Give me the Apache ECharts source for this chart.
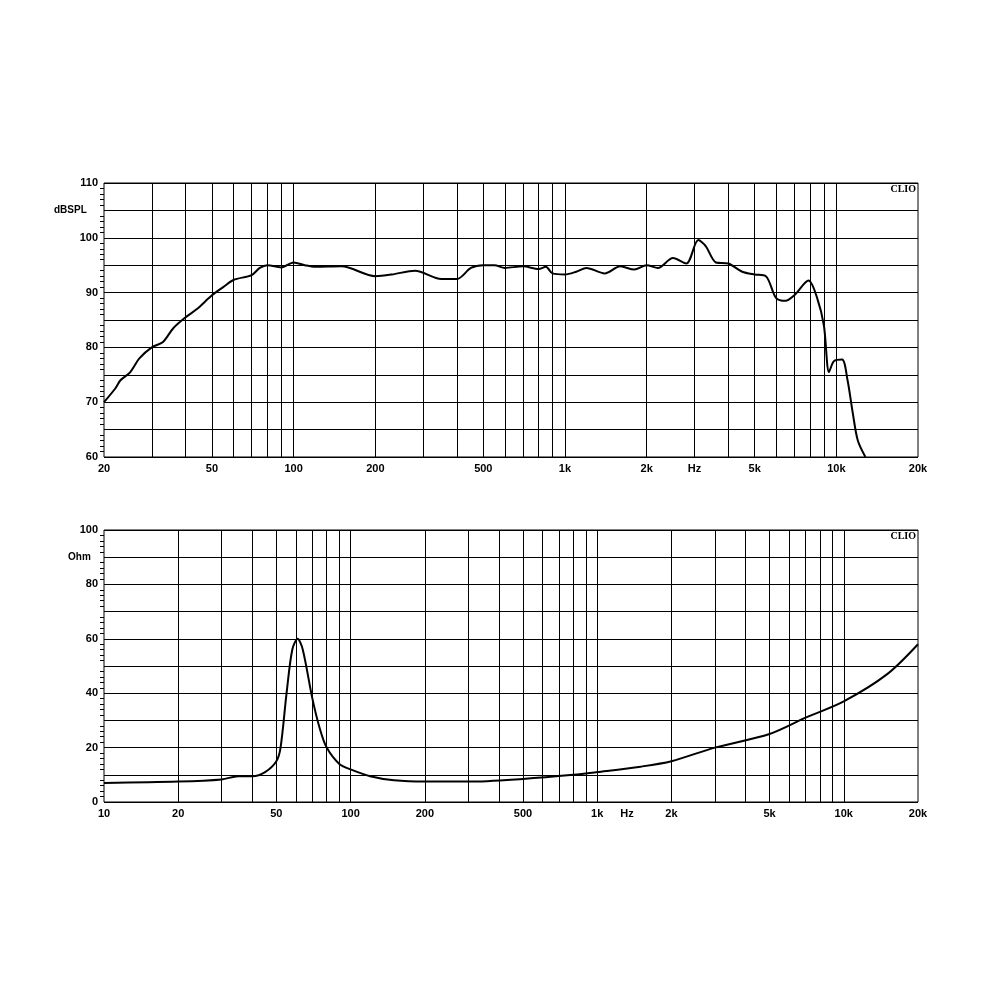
<!DOCTYPE html>
<html><head><meta charset="utf-8">
<script src="https://cdn.jsdelivr.net/npm/echarts@6/dist/echarts.min.js"></script>
<style>html,body{margin:0;background:#fff}#c{width:1000px;height:1000px}</style>
</head><body><div id="c"></div>
<script>
// frequency response (Hz, dBSPL)
const splFreq = [20,22,23,25,27,30,33,36,40,44,50,55,60,70,75,80,90,100,110,120,150,200,230,280,350,400,450,500,550,600,700,800,850,900,1000,1100,1200,1400,1600,1800,2000,2200,2500,2800,3100,3300,3600,4000,4500,5000,5500,6000,6500,7000,7900,8500,9000,9400,9800,10500,11000,11500,12000,12800];
const splValue = [70,72.5,74,75.5,78,80,81,83.5,85.5,87,89.5,91,92.3,93.2,94.5,95,94.6,95.5,95,94.7,94.8,93,93.3,94,92.5,92.5,94.5,95,95,94.5,94.8,94.3,94.7,93.5,93.3,93.8,94.5,93.5,94.8,94.2,95,94.5,96.3,95.3,99.6,98.5,95.5,95.3,93.8,93.3,93,89,88.5,89.5,92.2,89,84,75.5,77.5,77.8,74,68,63,60];
// impedance (Hz, Ohm)
const impFreq = [10,20,30,35,40,45,50,52,55,58,61,64,70,75,80,90,100,120,150,200,300,500,800,1000,1500,2000,3000,5000,7000,10000,15000,20000];
const impValue = [7,7.5,8.3,9.5,9.5,11,15,20,40,56,60,56,38,27,20,14,12,9.5,8,7.5,7.5,8.5,10,11,13,15,20,25,31,37,47,58];
// vertical grid lines and tick labels
const gridFreq = [10,20,30,40,50,60,70,80,90,100,200,300,400,500,600,700,800,900,1000,2000,3000,4000,5000,6000,7000,8000,9000,10000,20000];
const splTicks = [20,50,100,200,500,1000,2000,3000,5000,10000,20000];
const impTicks = [10,20,50,100,200,500,1000,1320,2000,5000,10000,20000];
const hzAt = {spl: 3000, imp: 1320};

const font = {fontFamily: 'Liberation Sans', fontWeight: 'bold', fontSize: 11, color: '#000'};
const fmtF = hz => f => f === hz ? 'Hz' : f >= 1000 ? (f / 1000) + 'k' : String(f);

function xAxis(idx, min, max, ticks, hz) {
  return {
    gridIndex: idx, type: 'log', logBase: 10, min, max,
    axisLine: {show: false}, axisTick: {show: false}, splitLine: {show: false},
    axisLabel: Object.assign({customValues: ticks, formatter: fmtF(hz), margin: 6, showMinLabel: true, showMaxLabel: true}, font)
  };
}
function yAxis(idx, min, max, step, labelStep) {
  return {
    gridIndex: idx, type: 'value', min, max, interval: step,
    axisLine: {show: false},
    axisTick: {show: false},
    minorTick: {show: true, splitNumber: 5, length: 4, lineStyle: {color: '#000'}},
    splitLine: {lineStyle: {color: '#000', width: 1}},
    axisLabel: Object.assign({formatter: v => v % labelStep === 0 ? v : '', margin: 6}, font)
  };
}
function curve(idx, fs, vs, min, max) {
  return {
    type: 'line', xAxisIndex: idx, yAxisIndex: idx, symbol: 'none', smooth: 0.3,
    lineStyle: {color: '#000', width: 2},
    data: fs.map((f, i) => [f, vs[i]]),
    markLine: {
      silent: true, symbol: 'none', label: {show: false},
      lineStyle: {color: '#000', width: 1, type: 'solid'},
      data: gridFreq.filter(f => f > min && f < max).map(f => ({xAxis: f}))
    }
  };
}

echarts.init(document.getElementById('c')).setOption({
  animation: false,
  grid: [
    {left: 104, top: 183, width: 814, height: 274, show: true, borderColor: '#000', borderWidth: 1},
    {left: 104, top: 530, width: 814, height: 272, show: true, borderColor: '#000', borderWidth: 1}
  ],
  xAxis: [xAxis(0, 20, 20000, splTicks, hzAt.spl), xAxis(1, 10, 20000, impTicks, hzAt.imp)],
  yAxis: [yAxis(0, 60, 110, 5, 10), yAxis(1, 0, 100, 10, 20)],
  graphic: [
    {type: 'text', left: 54, top: 205, style: Object.assign({text: 'dBSPL', fill: '#000'}, font, {fontSize: 10})},
    {type: 'text', left: 68, top: 552, style: Object.assign({text: 'Ohm', fill: '#000'}, font, {fontSize: 10})},
    {type: 'text', right: 84, top: 184, style: {text: 'CLIO', fill: '#000', fontFamily: 'Liberation Serif', fontWeight: 'bold', fontSize: 10}},
    {type: 'text', right: 84, top: 531, style: {text: 'CLIO', fill: '#000', fontFamily: 'Liberation Serif', fontWeight: 'bold', fontSize: 10}}
  ],
  series: [
    curve(0, splFreq, splValue, 20, 20000),
    curve(1, impFreq, impValue, 10, 20000)
  ]
});
</script></body></html>
